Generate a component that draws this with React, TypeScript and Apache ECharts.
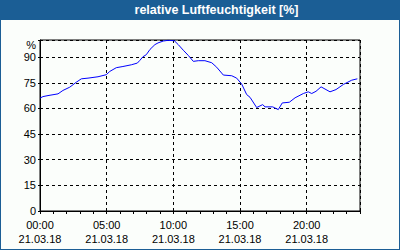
import React, { useEffect, useRef } from "react";
import * as echarts from "echarts";

const hours = [0, 0.22, 0.6, 1.35, 1.72, 2.23, 2.72, 3.1, 3.6, 4.35, 4.97, 5.23, 5.72, 6.22, 6.85, 7.3, 7.48, 7.72, 7.97, 8.25, 8.62, 8.85, 9.25, 9.6, 10.07, 10.37, 10.75, 11.12, 11.5, 11.87, 12.37, 12.88, 13.25, 13.75, 14.38, 14.75, 15.13, 15.5, 15.75, 16.25, 16.7, 16.88, 17.45, 17.87, 18.17, 18.7, 19.13, 19.75, 20.12, 20.38, 20.7, 21.08, 21.75, 22.2, 22.75, 23.38, 23.8];
const humidity = [66.0, 66.9, 67.5, 68.5, 70.5, 72.4, 75.3, 77.3, 77.7, 78.5, 79.7, 81.6, 83.8, 84.5, 85.5, 86.5, 88, 90.2, 91.4, 94.5, 97.3, 98.3, 99.4, 99.8, 99.6, 97.3, 94, 91, 87.5, 87.9, 87.9, 86.7, 84.1, 79.5, 79.1, 77.7, 74.2, 68.1, 66.5, 60.5, 62.2, 60.9, 60.9, 59.3, 63.2, 63.6, 66.2, 68.7, 69.7, 68.7, 70, 72.6, 69.7, 71, 74, 76.5, 77.3];
const dateLabel = "21.03.18";
const title = "relative Luftfeuchtigkeit [%]";
const unitLabel = "%";

export default function App() {
  const ref = useRef<HTMLDivElement>(null);
  useEffect(() => {
    if (!ref.current) return;
    const chart = echarts.init(ref.current, null, { renderer: "svg" });
    const font = "Liberation Sans, Arial, sans-serif";
    const data = hours.map((h, i) => [h, humidity[i]]);
    chart.setOption({
      animation: false,
      backgroundColor: "#1b5e95",
      graphic: [
        { type: "rect", shape: { x: 1, y: 20, width: 398, height: 229 }, style: { fill: "#fbfefb" }, z: -10, silent: true },
        { type: "text", x: 216.5, y: 10, style: { text: title, fill: "#ffffff", font: `bold 12.5px ${font}`, align: "center", verticalAlign: "middle" } },
        { type: "text", x: 36, y: 45, style: { text: unitLabel, fill: "#000", font: `11px ${font}`, align: "right", verticalAlign: "middle" } },
      ],
      grid: { left: 40, right: 40, top: 40, bottom: 39, show: true, borderColor: "#000", borderWidth: 1, backgroundColor: "transparent", containLabel: false },
      xAxis: [
        {
          type: "value", min: 0, max: 24, interval: 1,
          axisLine: { show: true, onZero: false, lineStyle: { color: "#000", width: 1 } },
          axisTick: { show: true, length: 3, lineStyle: { color: "#000" } },
          axisLabel: {
            margin: 7, color: "#000", fontFamily: font, fontSize: 11, lineHeight: 14,
            formatter: (v: number) => (v % 5 === 0 && v < 24 ? `${String(v).padStart(2, "0")}:00\n${dateLabel}` : ""),
          },
          splitLine: { show: false },
        },
        {
          type: "value", min: 0, max: 24, interval: 5, position: "bottom",
          axisLine: { show: false }, axisTick: { show: false }, axisLabel: { show: false },
          splitLine: { show: true, lineStyle: { color: "#000", type: [3, 3], width: 1 } },
        },
      ],
      yAxis: {
        type: "value", min: 0, max: 100, interval: 15,
        axisLine: { show: true, lineStyle: { color: "#000", width: 1 } },
        axisTick: { show: true, length: 2, lineStyle: { color: "#000" } },
        axisLabel: { margin: 4, color: "#000", fontFamily: font, fontSize: 11, formatter: (v: number) => (v >= 100 ? "" : String(v)) },
        splitLine: { show: true, lineStyle: { color: "#000", type: [3, 3], width: 1 } },
      },
      series: [
        { type: "line", data, showSymbol: false, symbol: "none", lineStyle: { color: "#0000ff", width: 1 }, xAxisIndex: 0 },
      ],
    });
    return () => chart.dispose();
  }, []);
  return <div ref={ref} style={{ position: "fixed", left: 0, top: 0, width: 400, height: 250 }} />;
}
